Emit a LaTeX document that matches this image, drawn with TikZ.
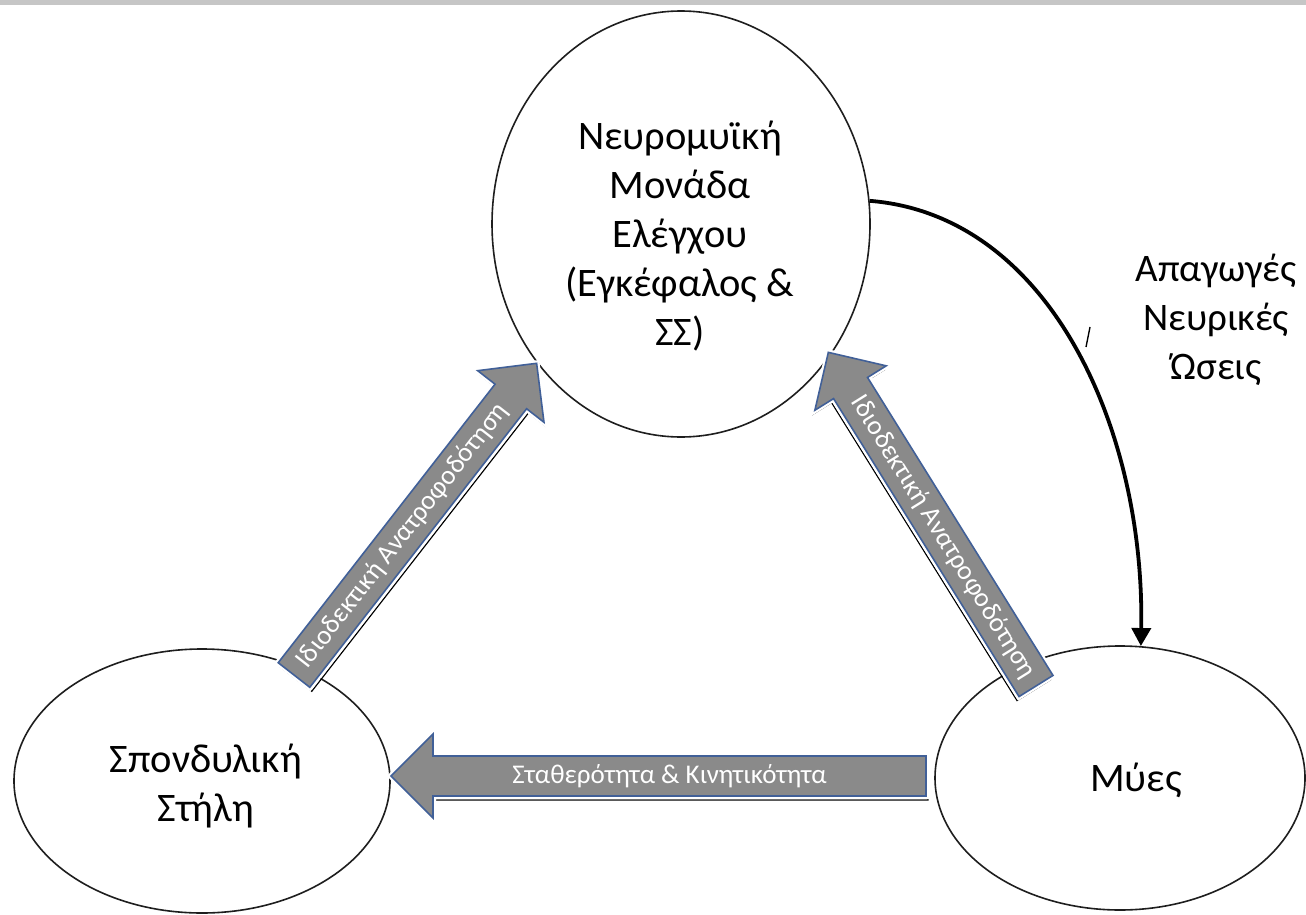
\documentclass[tikz,border=0pt]{standalone}
\usepackage{fontspec}
\setmainfont{Carlito}
\usetikzlibrary{shapes.geometric,arrows.meta}
\definecolor{arrowgray}{RGB}{138,138,138}
\definecolor{arrowblue}{RGB}{65,96,152}
\definecolor{edgeblack}{RGB}{30,30,30}
\tikzset{
  ell/.style={ellipse, draw=edgeblack, line width=1.6pt, fill=white, inner sep=0pt},
  maintext/.style={align=center, font=\fontsize{40.5}{49}\selectfont, inner sep=0pt},
  sidetext/.style={align=center, font=\fontsize{39}{49}\selectfont, inner sep=0pt},
  arrowtext/.style={text=white, font=\fontsize{27}{30}\selectfont, inner sep=0pt},
  blockfill/.style={fill=arrowgray, draw=arrowblue, line width=1.6pt, line join=miter},
  blockhalo/.style={draw=white, line width=6pt, line join=miter},
  blockshadow/.style={draw=black, line width=1.2pt, line join=miter},
  impulse/.style={line width=3.8pt, -{Triangle[length=18pt,width=19pt]}}
}
% #1 tail coordinate, #2 angle, #3 length, #4 text angle, #5 shadow shift, #6 text offset along shaft, #7 text
\newcommand\blockarrow[7]{%
  \begin{scope}[shift={(#1)}, shift={#5}, rotate=#2]
    \draw[blockshadow] (0,-20) -- ({#3-42},-20) -- ({#3-42},-42) -- (#3,0) -- ({#3-42},42) -- ({#3-42},20) -- (0,20) -- cycle;
  \end{scope}
  \begin{scope}[shift={(#1)}, rotate=#2]
    \draw[blockhalo] (0,-20) -- ({#3-42},-20) -- ({#3-42},-42) -- (#3,0) -- ({#3-42},42) -- ({#3-42},20) -- (0,20) -- cycle;
    \draw[blockfill] (0,-20) -- ({#3-42},-20) -- ({#3-42},-42) -- (#3,0) -- ({#3-42},42) -- ({#3-42},20) -- (0,20) -- cycle;
    \node[arrowtext, rotate=#4] at ({(#3-42)/2+#6},0) {#7};
  \end{scope}}
\begin{document}
\begin{tikzpicture}[x=1pt,y=1pt]
\useasboundingbox (0,0) rectangle (1306,-915);
\fill[white] (0,0) rectangle (1306,-915);
\fill[gray!45] (0,0) rectangle (1306,-5);

% nodes
\node[ell, minimum width=378pt, minimum height=426pt] (nmc) at (681,-224) {};
\node[ell, minimum width=376pt, minimum height=264pt] (spine) at (202,-781) {};
\node[ell, minimum width=370pt, minimum height=264pt] (mus) at (1120,-778) {};

\node[maintext] (nmctext) at (680,-236) {Νευρομυϊκή\\Μονάδα\\Ελέγχου\\(Εγκέφαλος \&\\ΣΣ)};
\node[maintext] (spinetext) at (206,-786) {Σπονδυλική\\Στήλη};
\node[maintext] (mustext) at (1136,-780) {Μύες};
\node[sidetext] (imptext) at (1216,-320) {Απαγωγές\\Νευρικές\\Ώσεις};

% efferent impulses
\draw[impulse] (nmc.7) .. controls (1050,-215) and (1145,-430) .. (mus.81);
\coordinate (tickA) at (1090,-327);
\coordinate (tickB) at (1086,-347);
\draw[line width=1.4pt] (tickA) -- (tickB);

% block arrows
\coordinate (ltail) at (294,-675);
\coordinate (rtail) at (1036,-686);
\coordinate (btail) at (926,-776);
\blockarrow{ltail}{52.1}{395}{52.1}{(2,-4)}{0}{Ιδιοδεκτική Ανατροφοδότηση}
\blockarrow{rtail}{121.9}{393}{-58.1}{(-2,-4)}{0}{Ιδιοδεκτική Ανατροφοδότηση}
\blockarrow{btail}{180}{535}{0}{(2,-4)}{10}{Σταθερότητα \& Κινητικότητα}
\end{tikzpicture}
\end{document}
